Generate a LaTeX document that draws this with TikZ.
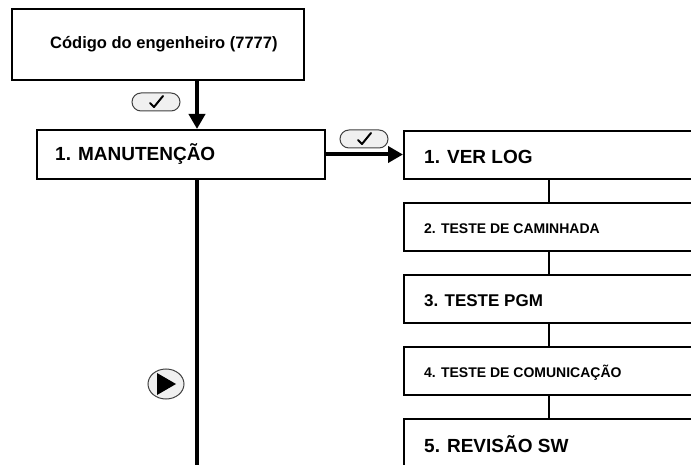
\documentclass[tikz,border=0pt]{standalone}
\usepackage{fontspec}
\setmainfont{Liberation Sans}
\usetikzlibrary{arrows.meta,shapes.geometric}

\begin{document}
\begin{tikzpicture}[x=1pt, y=-1pt,
    box/.style={draw, line width=2pt, anchor=north west, inner sep=0pt},
    label/.style={anchor=west, inner sep=0pt, font=\bfseries\fontsize{#1}{#1}\selectfont},
    keybtn/.style={draw=black!75, line width=1pt, fill=gray!12, rounded corners=9pt,
        minimum width=48pt, minimum height=18pt, inner sep=0pt},
    playbtn/.style={ellipse, draw=black!75, line width=1pt, fill=gray!12,
        minimum width=36pt, minimum height=30pt, inner sep=0pt},
    flow/.style={line width=4pt},
    link/.style={line width=1.5pt}]

\useasboundingbox (0,0) rectangle (691,465);
\clip (0,0) rectangle (691,465);

\coordinate (trunk) at (197,0);
\coordinate (bottom) at (197,470);

% Entry code and main menu
\node[box, minimum width=292pt, minimum height=71pt] (code) at (11,8) {};
\node[label=16.5] (codetext) at ([xshift=39pt]code.west) {Código do engenheiro (7777)};

\node[box, minimum width=288pt, minimum height=49pt] (menu) at (36,129) {};
\node[label=19] (menutext) at ([xshift=19pt]menu.west) {1. MANUTENÇÃO};

% Sub menu (runs off the right and bottom edge)
\foreach \i/\txt/\sz in {1/{1. VER LOG}/19,
                         2/{2. TESTE DE CAMINHADA}/14,
                         3/{3. TESTE PGM}/17,
                         4/{4. TESTE DE COMUNICAÇÃO}/14,
                         5/{5. REVISÃO SW}/19}
{
    \node[box, minimum width=290pt, minimum height=48pt] (r\i) at (403,{130+72*(\i-1)}) {};
    \node[label=\sz] (t\i) at ([xshift=21pt,yshift=-1.5pt]r\i.west) {\txt};
}
\foreach \i [evaluate=\i as \j using int(\i+1)] in {1,...,4}
    \draw[link] (r\i.south) -- (r\j.north);

% Arrows
\draw[flow, -{Triangle[length=15pt,width=16pt]}] (code.south -| trunk) -- (menu.north -| trunk);
\draw[flow, -{Triangle[length=15pt,width=16pt]}] (menu.east) -- (menu.east -| r1.west);
\draw[flow] (menu.south -| trunk) -- (bottom);

% Keys
\node[keybtn] (check1) at (156,102) {};
\node[keybtn] (check2) at (364,139) {};
\foreach \k in {check1,check2}
    \draw[line width=2pt, line cap=round, line join=round]
        ([shift={(-6,1)}]\k.center) -- ++(4,4) -- ++(9,-11);

\node[playbtn] (play) at (166,384) {};
\fill ([shift={(-9,-11)}]play.center) -- ++(0,22) -- ++(19,-11) -- cycle;

\end{tikzpicture}
\end{document}
